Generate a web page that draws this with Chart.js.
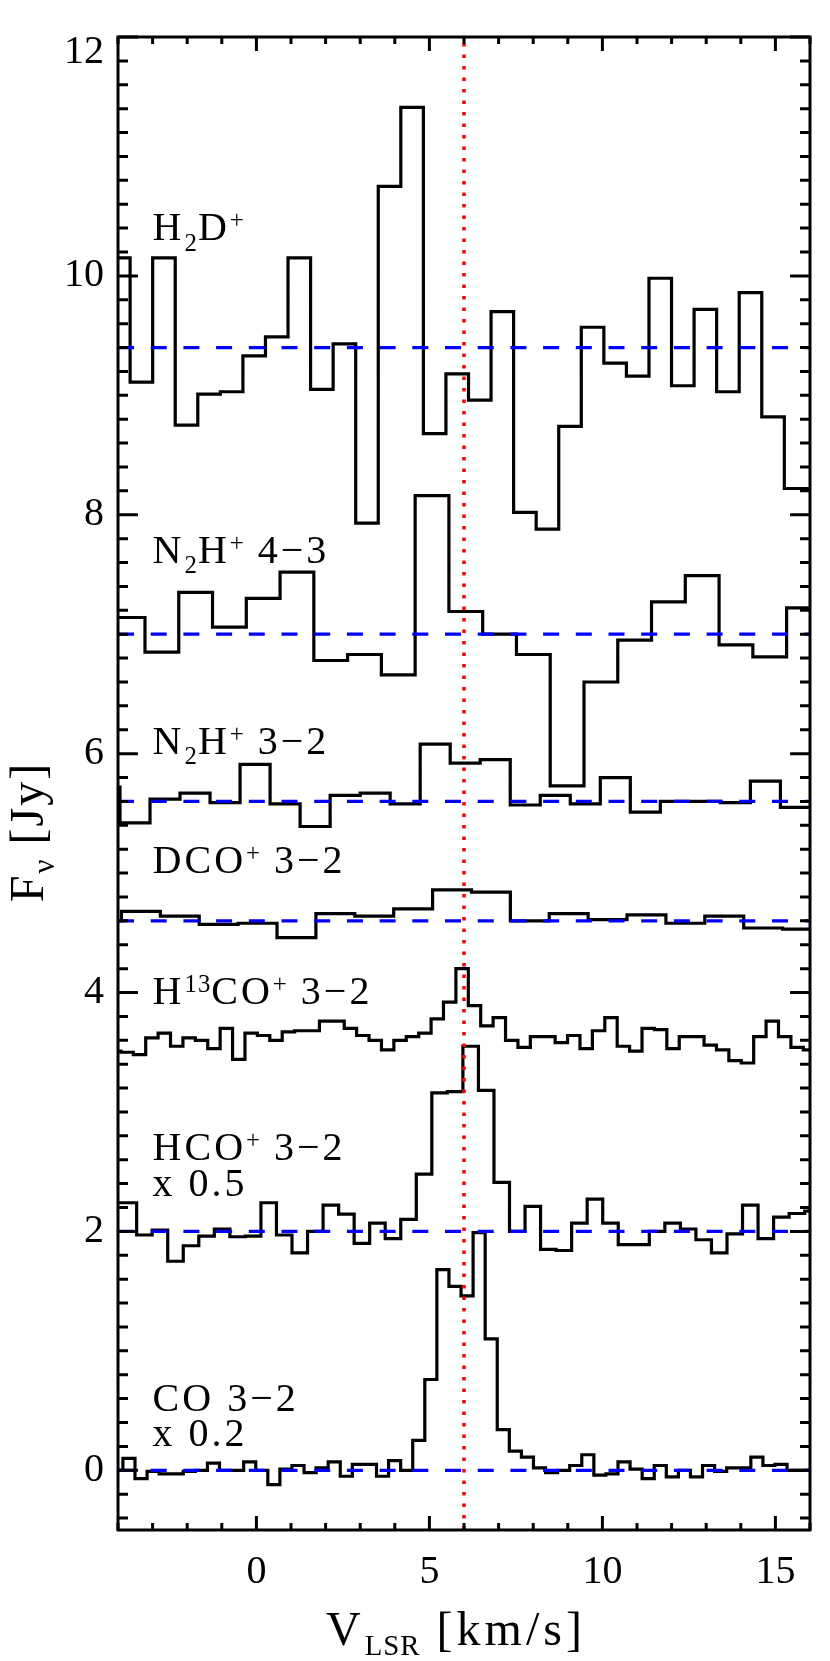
<!DOCTYPE html>
<html>
<head>
<meta charset="utf-8">
<script src="https://cdn.jsdelivr.net/npm/chart.js@4/dist/chart.umd.min.js"></script>
<style>
    html, body { margin: 0; padding: 0; background: #fff; }
    canvas { display: block; }
</style>
</head>
<body>
<canvas id="spectra" width="830" height="1661"></canvas>
<script>
// Axis ticks (km/s and Jy)
var xTicks = [0, 5, 10, 15];
var yTicks = [0, 2, 4, 6, 8, 10, 12];

// Each spectrum: left edge of first channel, channel width (km/s), flux per channel (Jy, offset)
var h2dStart = -4.302, h2dWidth = 0.652;
var h2dFlux = [10.15, 9.11, 10.15, 8.75, 9.01, 9.03, 9.33, 9.49, 10.15, 9.05, 9.43, 7.93, 10.75, 11.41,
    8.68, 9.18, 8.96, 9.70, 8.02, 7.88, 8.74, 9.57, 9.27, 9.16, 9.98, 9.08, 9.72, 9.03, 9.86, 8.82, 8.22, 8.22];

var n2h43Start = -4.196, n2h43Width = 0.976;
var n2h43Flux = [7.14, 6.85, 7.35, 7.06, 7.30, 7.52, 6.78, 6.83, 6.66, 8.16, 7.19, 7.00, 6.83, 5.73,
    6.60, 6.95, 7.27, 7.49, 6.91, 6.81, 7.22];

var n2h32Start = -4.81, n2h32Width = 0.8676;
var n2h32Flux = [5.72, 5.42, 5.62, 5.67, 5.59, 5.91, 5.58, 5.39, 5.65, 5.67, 5.58, 6.08, 5.92, 5.95,
    5.57, 5.65, 5.58, 5.80, 5.51, 5.60, 5.60, 5.59, 5.77, 5.55];

var dcoStart = -5.024, dcoWidth = 1.124;
var dcoFlux = [4.60, 4.68, 4.64, 4.57, 4.58, 4.46, 4.66, 4.64, 4.70, 4.86, 4.84, 4.60, 4.66, 4.61,
    4.65, 4.58, 4.64, 4.54, 4.53];

var h13coStart = -4.275, h13coWidth = 0.3586;
var h13coFlux = [3.51, 3.50, 3.48, 3.62, 3.66, 3.55, 3.62, 3.60, 3.53, 3.70, 3.44, 3.66, 3.64, 3.60,
    3.67, 3.68, 3.68, 3.76, 3.76, 3.70, 3.64, 3.60, 3.52, 3.60, 3.63, 3.66, 3.78, 3.92, 4.20, 3.89,
    3.72, 3.79, 3.60, 3.54, 3.63, 3.63, 3.58, 3.64, 3.53, 3.68, 3.79, 3.55, 3.51, 3.70, 3.69, 3.53,
    3.63, 3.63, 3.56, 3.52, 3.43, 3.41, 3.63, 3.76, 3.63, 3.54, 3.52];

var hcoStart = -4.359, hcoWidth = 0.449;
var hcoFlux = [2.24, 2.24, 1.97, 2.01, 1.75, 1.88, 1.96, 2.02, 1.955, 1.96, 2.24, 1.97, 1.82, 2.00,
    2.22, 2.145, 1.90, 2.07, 1.94, 2.10, 2.48, 3.16, 3.17, 3.55, 3.18, 2.41, 2.00, 2.21, 1.85, 1.84,
    2.07, 2.27, 2.07, 1.89, 1.89, 2.00, 2.07, 2.02, 1.93, 1.82, 1.98, 2.22, 1.94, 2.12, 2.15, 2.17];

var coStart = -4.207, coWidth = 0.349;
var coFlux = [0.00, 0.10, -0.07, -0.01, -0.03, -0.03, -0.01, 0.00, 0.06, 0.00, 0.00, 0.07, 0.00, -0.12,
    0.01, 0.04, -0.02, 0.02, 0.07, -0.05, 0.05, 0.05, -0.05, 0.08, 0.00, 0.25, 0.76, 1.68, 1.54, 1.46,
    1.99, 1.10, 0.34, 0.16, 0.11, 0.02, -0.02, 0.00, 0.04, 0.13, -0.04, -0.03, 0.07, 0.01, -0.07, 0.04,
    -0.055, 0.00, -0.055, 0.04, -0.01, 0.02, 0.02, 0.11, 0.04, 0.05, 0.00, 0.00];

// Continuum levels (blue dashed) and source velocity (red dotted)
var baselines = [9.4, 7.0, 5.6, 4.6, 2.0, 0.0];
var sourceVelocity = 6.0;

var serif = "'Liberation Serif', 'Times New Roman', serif";

// Text labels: [text, 'sub' | 'sup'] pieces, placed at data coordinates
var speciesLabels = [
    { at: [-3, 10.3], parts: [['H'], ['2', 'sub'], ['D'], ['+', 'sup']] },
    { at: [-3, 7.6], parts: [['N'], ['2', 'sub'], ['H'], ['+', 'sup'], [' 4\u22123']] },
    { at: [-3, 6.0], parts: [['N'], ['2', 'sub'], ['H'], ['+', 'sup'], [' 3\u22122']] },
    { at: [-3, 5.0], parts: [['DCO'], ['+', 'sup'], [' 3\u22122']] },
    { at: [-3, 3.9], parts: [['H'], ['13', 'sup'], ['CO'], ['+', 'sup'], [' 3\u22122']] },
    { at: [-3, 2.6], parts: [['HCO'], ['+', 'sup'], [' 3\u22122']] },
    { at: [-3, 2.3], parts: [['x 0.5']] },
    { at: [-3, 0.5], parts: [['CO 3\u22122']] },
    { at: [-3, 0.2], parts: [['x 0.2']] }
];
var xTitle = [['V'], ['LSR', 'sub'], [' [km/s]']];
var yTitle = [['F'], ['\u03bd', 'sub'], [' [Jy]']];

// Histogram points: one at each channel's left edge, plus the closing edge.
function histogram(start, width, flux) {
    var pts = flux.map(function (f, i) {
        return { x: start + i * width, y: f };
    });
    pts.push({ x: start + flux.length * width, y: flux[flux.length - 1] });
    return pts;
}

function spectrum(start, width, flux) {
    return {
        data: histogram(start, width, flux),
        stepped: 'before',
        borderColor: '#000',
        borderWidth: 3.2,
        pointRadius: 0,
        fill: false,
        clip: 0,
        order: 2
    };
}

var datasets = [
    spectrum(h2dStart, h2dWidth, h2dFlux),
    spectrum(n2h43Start, n2h43Width, n2h43Flux),
    spectrum(n2h32Start, n2h32Width, n2h32Flux),
    spectrum(dcoStart, dcoWidth, dcoFlux),
    spectrum(h13coStart, h13coWidth, h13coFlux),
    spectrum(hcoStart, hcoWidth, hcoFlux),
    spectrum(coStart, coWidth, coFlux)
];

baselines.forEach(function (b) {
    datasets.push({
        data: [{ x: -4, y: b }, { x: 16, y: b }],
        borderColor: '#0000ff',
        borderWidth: 3.2,
        borderDash: [16, 16.7],
        pointRadius: 0,
        clip: 0,
        order: 1
    });
});

datasets.push({
    data: [{ x: sourceVelocity, y: -0.5 }, { x: sourceVelocity, y: 12 }],
    borderColor: '#ff0000',
    borderWidth: 3.5,
    borderDash: [3.5, 8],
    pointRadius: 0,
    clip: 0,
    order: 0
});

// Measure and draw a run of text pieces with sub/superscripts.
// Sub/superscripts use a tighter letter spacing than the main text.
function richWidth(ctx, parts, size, small, spacing) {
    var w = 0;
    parts.forEach(function (p) {
        ctx.letterSpacing = p[1] ? '1px' : spacing;
        ctx.font = (p[1] ? size * small : size) + 'px ' + serif;
        w += ctx.measureText(p[0]).width;
    });
    return w;
}

function drawRich(ctx, parts, x, y, size, small, subDy, supDy, spacing) {
    parts.forEach(function (p) {
        var dy = p[1] === 'sub' ? subDy : (p[1] === 'sup' ? -supDy : 0);
        ctx.letterSpacing = p[1] ? '1px' : spacing;
        ctx.font = (p[1] ? size * small : size) + 'px ' + serif;
        ctx.fillText(p[0], x, y + dy);
        x += ctx.measureText(p[0]).width;
    });
}

// Box with inward major/minor ticks on all sides, plus the text labels.
var framePlugin = {
    id: 'frame',
    afterDraw: function (chart) {
        var ctx = chart.ctx,
            a = chart.chartArea,
            xs = chart.scales.x,
            ys = chart.scales.y,
            v, k, px, py, len, w;

        ctx.save();
        ctx.strokeStyle = '#000';
        ctx.lineWidth = 3;
        ctx.beginPath();
        for (v = Math.ceil(xs.min); v <= xs.max; v++) {
            px = xs.getPixelForValue(v);
            len = xTicks.indexOf(v) >= 0 ? 14 : 7;
            ctx.moveTo(px, a.bottom);
            ctx.lineTo(px, a.bottom - len);
            ctx.moveTo(px, a.top);
            ctx.lineTo(px, a.top + len);
        }
        for (k = Math.ceil(ys.min * 5); k <= Math.floor(ys.max * 5); k++) {
            py = ys.getPixelForValue(k / 5);
            len = k % 10 === 0 ? 20 : 10;
            ctx.moveTo(a.left, py);
            ctx.lineTo(a.left + len, py);
            ctx.moveTo(a.right, py);
            ctx.lineTo(a.right - len, py);
        }
        ctx.stroke();
        ctx.strokeRect(a.left, a.top, a.right - a.left, a.bottom - a.top);

        ctx.fillStyle = '#000';
        ctx.textBaseline = 'alphabetic';
        ctx.textAlign = 'left';
        ctx.wordSpacing = '16px';
        speciesLabels.forEach(function (lab) {
            drawRich(ctx, lab.parts, xs.getPixelForValue(lab.at[0]), ys.getPixelForValue(lab.at[1]),
                40, 0.62, 10.8, 12, '3px');
        });

        // Axis titles
        ctx.wordSpacing = '14px';
        w = richWidth(ctx, xTitle, 48, 0.6, '4px');
        drawRich(ctx, xTitle, 456 - w / 2, 1645, 48, 0.6, 10, 12, '4px');

        ctx.wordSpacing = '10px';
        ctx.translate(42.5, 832);
        ctx.rotate(-Math.PI / 2);
        w = richWidth(ctx, yTitle, 48, 0.65, '2px');
        drawRich(ctx, yTitle, -w / 2, 0, 48, 0.65, 11, 12, '2px');
        ctx.restore();
    }
};

new Chart(document.getElementById('spectra'), {
    type: 'line',
    data: { datasets: datasets },
    options: {
        responsive: false,
        animation: false,
        events: [],
        layout: { padding: { left: 0, right: 20, top: 37, bottom: 0 } },
        plugins: {
            legend: { display: false },
            tooltip: { enabled: false }
        },
        scales: {
            x: {
                type: 'linear',
                min: -4,
                max: 16,
                grid: { display: false, drawTicks: false },
                border: { display: false },
                afterBuildTicks: function (scale) {
                    scale.ticks = xTicks.map(function (t) { return { value: t }; });
                },
                afterFit: function (scale) {
                    scale.height = 131;
                    scale.paddingLeft = 0;
                    scale.paddingRight = 0;
                },
                ticks: {
                    font: { family: serif, size: 40 },
                    color: '#000', padding: 18, maxRotation: 0, autoSkip: false
                }
            },
            y: {
                type: 'linear',
                min: -0.5,
                max: 12,
                grid: { display: false, drawTicks: false },
                border: { display: false },
                afterBuildTicks: function (scale) {
                    scale.ticks = yTicks.map(function (t) { return { value: t }; });
                },
                afterFit: function (scale) {
                    scale.width = 118;
                    scale.paddingTop = 0;
                    scale.paddingBottom = 0;
                },
                ticks: {
                    font: { family: serif, size: 40, lineHeight: 0.75 },
                    color: '#000', padding: 14, autoSkip: false,
                    // the top label sits just below the frame corner, as in the original
                    callback: function (value) {
                        return value === yTicks[yTicks.length - 1] ? ['', String(value)] : String(value);
                    }
                }
            }
        }
    },
    plugins: [framePlugin]
});
</script>
</body>
</html>
